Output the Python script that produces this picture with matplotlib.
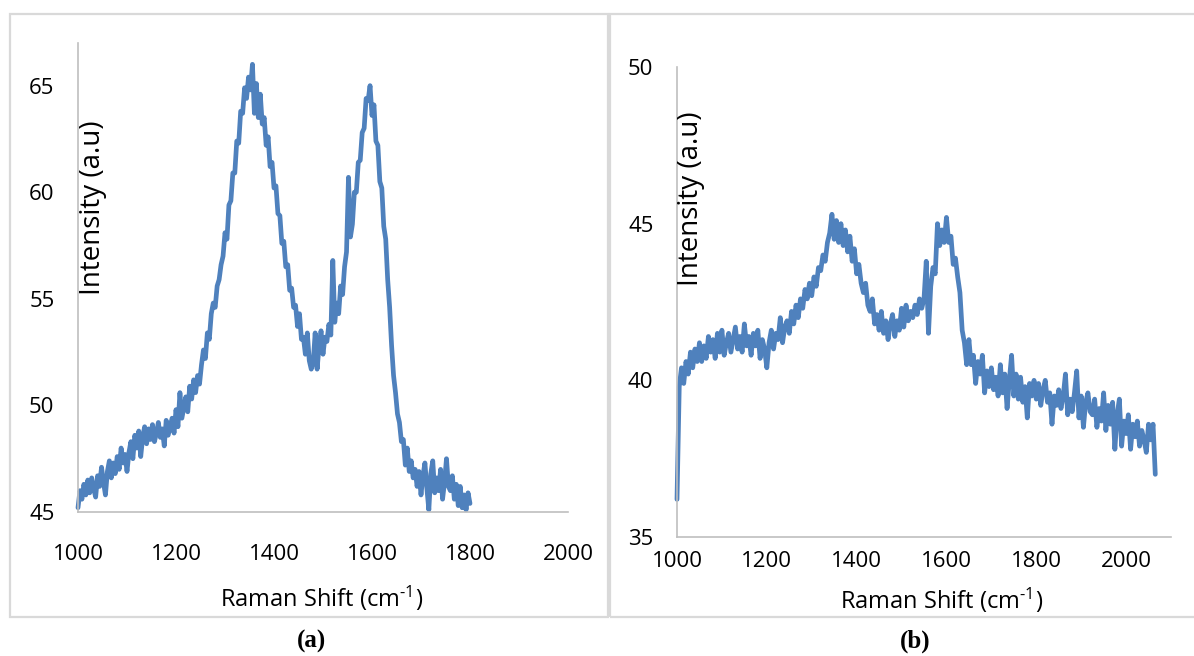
import numpy as np
import matplotlib
matplotlib.use('Agg')
import matplotlib.pyplot as plt
from matplotlib.patches import Rectangle


# ── Data ─────────────────────────────────────────────────────────────────────

# (a): 1000..1800 cm-1, 4 cm-1 step
shift_a_start, shift_a_step = 1000, 4
intensity_a = [
    45.2, 46.0, 45.6, 46.3, 45.8, 46.5, 45.9, 46.6, 46.1, 45.7,
    46.7, 46.2, 47.1, 46.4, 45.8, 46.9, 47.4, 46.6, 47.3, 46.8,
    47.6, 47.0, 48.0, 47.3, 47.7, 46.9, 47.8, 48.3, 47.5, 48.6,
    48.0, 48.8, 47.6, 48.5, 49.0, 48.2, 48.9, 48.4, 49.1, 48.3,
    48.7, 49.2, 48.5, 48.9, 48.1, 49.3, 48.6, 49.0, 49.4, 48.7,
    49.8, 49.0, 50.6, 49.4, 49.9, 50.4, 49.7, 50.9, 50.3, 51.2,
    50.6, 51.4, 51.0, 51.9, 52.6, 52.2, 53.4, 53.1, 54.3, 54.8,
    54.6, 55.6, 55.9, 56.6, 57.0, 58.1, 57.8, 59.4, 59.6, 60.9,
    60.9, 62.4, 62.3, 63.8, 63.7, 64.9, 64.4, 65.4, 64.8, 66.0,
    63.7, 65.1, 63.5, 64.6, 63.2, 63.5, 62.2, 62.6, 61.2, 61.4,
    60.2, 60.3, 59.0, 58.9, 57.6, 57.7, 56.5, 56.6, 55.4, 55.5,
    54.6, 54.7, 53.7, 54.3, 53.1, 53.2, 52.4, 53.4, 52.1, 51.7,
    52.0, 53.4, 51.7, 52.8, 53.5, 52.4, 53.2, 53.0, 53.8, 53.3,
    56.8, 53.9, 54.8, 54.3, 55.6, 55.2, 56.5, 57.2, 60.7, 57.9,
    58.5, 60.0, 60.0, 61.4, 61.5, 62.8, 63.0, 64.4, 64.3, 65.0,
    63.6, 64.1, 62.4, 62.2, 60.5, 60.2, 58.4, 57.8, 55.9, 54.6,
    52.8, 51.4, 50.6, 49.6, 49.2, 48.3, 48.4, 47.2, 48.0, 46.9,
    47.4, 46.6, 47.0, 46.2, 46.9, 45.8, 46.7, 47.3, 46.1, 45.1,
    46.8, 47.4, 45.9, 46.6, 46.0, 47.0, 45.6, 46.4, 47.5, 46.2,
    46.0, 46.7, 45.6, 46.3, 45.3, 46.2, 45.2, 45.8, 45.1, 45.9,
    45.4,
]

# (b): 1000..2065 cm-1, 5 cm-1 step
shift_b_start, shift_b_step = 1000, 5
intensity_b = [
    36.2, 39.8, 40.4, 39.9, 40.6, 40.2, 40.9, 40.4, 41.0, 40.6,
    41.2, 40.6, 41.1, 40.7, 41.4, 40.9, 41.3, 40.7, 41.5, 40.9,
    41.6, 40.8, 41.2, 41.5, 40.9, 41.3, 41.7, 41.0, 41.4, 40.9,
    41.8, 41.1, 41.4, 40.8, 41.5, 41.1, 41.6, 40.7, 41.3, 41.0,
    40.4, 41.2, 41.6, 41.0, 41.5, 41.3, 42.0, 41.2, 41.7, 41.9,
    41.5, 42.2, 41.8, 42.4, 42.0, 42.6, 42.3, 42.9, 42.6, 43.1,
    42.7, 43.3, 43.0, 43.6, 43.5, 44.0, 43.8, 44.4, 44.7, 45.3,
    44.5, 45.1, 44.4, 45.0, 44.3, 44.8, 44.1, 44.6, 43.8, 44.2,
    43.4, 43.7, 43.1, 42.8, 43.1, 42.4, 42.2, 42.6, 41.8, 42.1,
    41.6, 42.2, 41.5, 41.9, 41.3, 41.8, 42.1, 41.4, 41.9, 41.6,
    42.3, 41.7, 42.4, 41.9, 42.2, 42.0, 42.4, 42.1, 42.6, 42.3,
    42.6, 43.8, 41.5, 43.0, 43.6, 43.4, 45.0, 44.3, 44.8, 44.4,
    45.2, 44.4, 44.6, 43.7, 43.9, 43.3, 42.8, 41.6, 41.2, 40.5,
    41.3, 40.5, 40.8, 39.9, 40.6, 40.2, 40.8, 39.6, 40.3, 39.8,
    40.4, 39.7, 40.1, 39.5, 40.5, 39.6, 40.2, 39.1, 40.0, 40.8,
    39.5, 40.2, 39.4, 40.1, 39.3, 39.8, 38.8, 39.9, 39.5, 40.0,
    39.4, 39.9, 39.2, 39.7, 40.0, 39.3, 39.6, 38.6, 39.5, 39.2,
    39.7, 39.1, 39.5, 40.2, 38.9, 39.4, 39.0, 39.6, 40.3, 38.8,
    39.5, 38.5, 39.3, 39.6, 39.0, 38.9, 39.4, 38.5, 39.1, 38.7,
    39.6, 38.4, 39.2, 38.6, 39.3, 37.8, 38.9, 39.4, 37.9, 38.7,
    38.3, 38.9, 37.8, 38.6, 38.2, 38.7, 37.9, 38.4, 38.1, 37.7,
    38.6, 38.1, 38.6, 37.0,
]

x_ticks = [1000, 1200, 1400, 1600, 1800, 2000]
y_ticks_a = [45, 50, 55, 60, 65]
y_ticks_b = [35, 40, 45, 50]

LINE_COLOR = '#4f81bd'
AXIS_COLOR = '#bfbfbf'
BOX_COLOR = '#d9d9d9'
XLABEL = r'Raman Shift (cm$^{\text{-}1}$)'

plt.rcParams['font.family'] = ['Open Sans', 'DejaVu Sans']
plt.rcParams['mathtext.fontset'] = 'custom'
plt.rcParams['mathtext.rm'] = 'Open Sans'
plt.rcParams['mathtext.default'] = 'regular'

W, H = 1194, 656
fig = plt.figure(figsize=(W / 100, H / 100), dpi=100)


def px_rect(left, top, right, bottom):
    # pixel box -> figure fraction [l, b, w, h]
    return [left / W, 1 - bottom / H, (right - left) / W, (bottom - top) / H]


# ── Panel frames ─────────────────────────────────────────────────────────────
for l, t, r, b in [(10, 14, 608, 617), (610, 14, 1196, 617)]:
    fig.patches.append(Rectangle((l / W, 1 - b / H), (r - l) / W, (b - t) / H,
                                 transform=fig.transFigure, fill=False,
                                 edgecolor=BOX_COLOR, lw=1.6))


def style_axes(ax, xpad, ypad):
    for side in ('top', 'right'):
        ax.spines[side].set_visible(False)
    for side in ('left', 'bottom'):
        ax.spines[side].set_color(AXIS_COLOR)
        ax.spines[side].set_linewidth(1.2)
    ax.tick_params(axis='both', length=0, labelsize=16, colors='black')
    ax.tick_params(axis='x', pad=xpad)
    ax.tick_params(axis='y', pad=ypad)
    ax.set_facecolor('none')


# ── (a) ──────────────────────────────────────────────────────────────────────
ax_a = fig.add_axes(px_rect(78, 43, 568, 512))
xa = shift_a_start + shift_a_step * np.arange(len(intensity_a))
ax_a.plot(xa, intensity_a, color=LINE_COLOR, lw=3.4, solid_joinstyle='round',
          solid_capstyle='round', clip_on=False)
ax_a.set_xlim(1000, 2000)
ax_a.set_ylim(45, 67)
ax_a.set_xticks(x_ticks)
ax_a.set_yticks(y_ticks_a)
style_axes(ax_a, xpad=23, ypad=17)

fig.text(93 / W, 1 - 208 / H, 'Intensity (a.u)', rotation=90, fontsize=20,
         ha='center', va='center')
fig.text(322 / W, 1 - 598 / H, XLABEL, fontsize=17, ha='center', va='center')
fig.text(311 / W, 1 - 641 / H, '(a)', fontsize=18, fontweight='bold',
         family='Liberation Serif', ha='center', va='center')

# ── (b) ──────────────────────────────────────────────────────────────────────
ax_b = fig.add_axes(px_rect(677, 67, 1171, 537))
xb = shift_b_start + shift_b_step * np.arange(len(intensity_b))
ax_b.plot(xb, intensity_b, color=LINE_COLOR, lw=3.4, solid_joinstyle='round',
          solid_capstyle='round', clip_on=False)
ax_b.set_xlim(1000, 2100)
ax_b.set_ylim(35, 50)
ax_b.set_xticks(x_ticks)
ax_b.set_yticks(y_ticks_b)
style_axes(ax_b, xpad=10, ypad=17)

fig.text(691 / W, 1 - 199 / H, 'Intensity (a.u)', rotation=90, fontsize=20,
         ha='center', va='center')
fig.text(942 / W, 1 - 600 / H, XLABEL, fontsize=17, ha='center', va='center')
fig.text(915 / W, 1 - 641 / H, '(b)', fontsize=18, fontweight='bold',
         family='Liberation Serif', ha='center', va='center')

fig.savefig('out.png', dpi=100, facecolor='white')
